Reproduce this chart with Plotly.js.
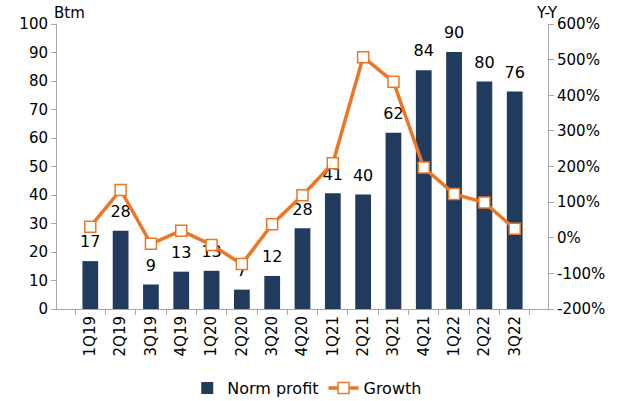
<!DOCTYPE html>
<html><head><meta charset="utf-8">
<script src="https://cdn.plot.ly/plotly-3.0.1.min.js"></script>
<style>html,body{margin:0;padding:0;background:#fff}#chart{width:627px;height:401px}</style>
</head><body><div id="chart"></div>
<script>
const categories = ["1Q19","2Q19","3Q19","4Q19","1Q20","2Q20","3Q20","4Q20","1Q21","2Q21","3Q21","4Q21","1Q22","2Q22","3Q22"];
const normProfit = [16.8,27.5,8.6,13.1,13.4,6.8,11.6,28.3,40.6,40.2,61.8,83.8,90.2,79.8,76.3];
const growth = [31,134,-17,20,-20,-74,38,119,209,507,438,197,123,99,25];
const leftTicks = [0,10,20,30,40,50,60,70,80,90,100];
const rightTicks = [-200,-100,0,100,200,300,400,500,600];

const navy = '#213B5E';
const orange = '#EE7623';
const font = 'DejaVu Sans, Verdana, sans-serif';

const traces = [
  {type:'bar', name:'Norm profit', x:categories, y:normProfit, marker:{color:navy},
   hoverinfo:'skip', yaxis:'y'},
  {type:'scatter', mode:'markers+text', x:categories, y:normProfit, showlegend:false,
   text:normProfit.map(v=>String(Math.round(v))), textposition:'top center',
   textfont:{family:font,size:16,color:'#000'}, marker:{size:14,opacity:0}, yaxis:'y', hoverinfo:'skip'},
  {type:'scatter', mode:'lines+markers', name:'Growth', x:categories, y:growth, yaxis:'y2',
   line:{color:orange,width:3.5}, marker:{symbol:'square',size:11,color:'#fff',line:{color:orange,width:1.5}}}
];

const layout = {
  width:627, height:401,
  margin:{l:57,r:79,t:24,b:92},
  paper_bgcolor:'#fff', plot_bgcolor:'#fff',
  font:{family:font,size:15,color:'#000'},
  bargap:0.48,
  showlegend:true,
  legend:{orientation:'h', xref:'container', yref:'container', x:0.49, xanchor:'center', y:0.032, yanchor:'middle', font:{size:16}, traceorder:'normal'},
  xaxis:{type:'category', automargin:false, showline:true, linecolor:'#a6a6a6', linewidth:1, ticks:'outside', tickson:'boundaries',
         ticklen:5, tickcolor:'#a6a6a6', tickangle:-90, showgrid:false, zeroline:false, tickfont:{size:15}},
  yaxis:{range:[0,100], automargin:false, tickvals:leftTicks, showline:true, linecolor:'#a6a6a6', ticks:'outside', ticklen:5,
         tickcolor:'#a6a6a6', showgrid:false, zeroline:false, tickfont:{size:15}},
  yaxis2:{range:[-200,600], automargin:false, tickvals:rightTicks, ticktext:rightTicks.map(v=>v+'%'), overlaying:'y', side:'right',
          showline:true, linecolor:'#a6a6a6', ticks:'outside', ticklen:5, tickcolor:'#a6a6a6',
          showgrid:false, zeroline:false, tickfont:{size:15}},
  annotations:[
    {text:'Btm', xref:'paper', yref:'paper', x:-0.01, y:1.04, xanchor:'left', yanchor:'middle', showarrow:false, font:{size:15}},
    {text:'Y-Y', xref:'paper', yref:'paper', x:1.025, y:1.04, xanchor:'right', yanchor:'middle', showarrow:false, font:{size:15}}
  ]
};
Plotly.newPlot('chart', traces, layout, {displayModeBar:false, staticPlot:true});
</script></body></html>
